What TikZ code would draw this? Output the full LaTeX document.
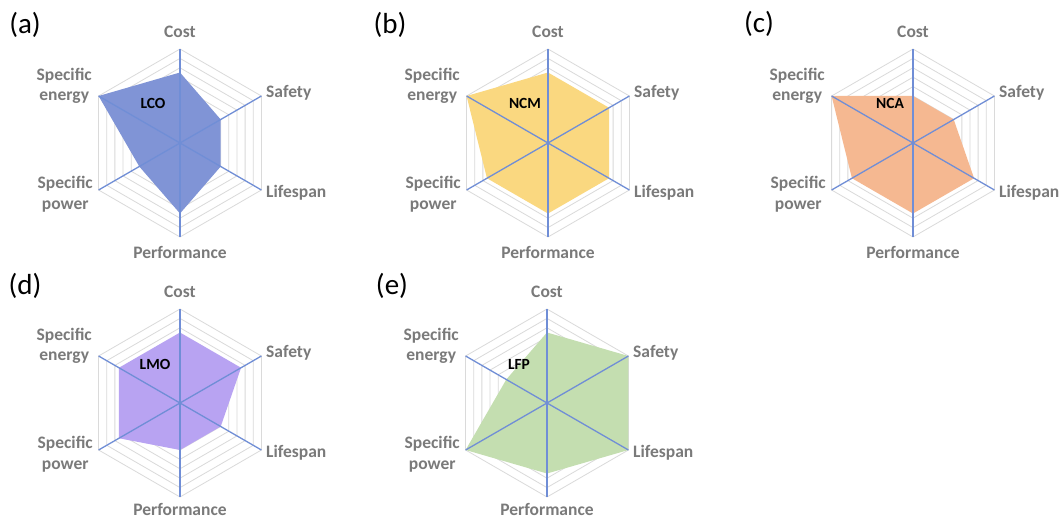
\documentclass[tikz,border=0pt]{standalone}
\usepackage{fontspec}
\setmainfont{Carlito}
\definecolor{axisblue}{RGB}{112,142,214}
\definecolor{ringgray}{RGB}{218,218,218}
\definecolor{labgray}{RGB}{122,122,122}
\definecolor{fillLCO}{RGB}{128,148,214}
\definecolor{fillNCM}{RGB}{250,216,128}
\definecolor{fillNCA}{RGB}{245,184,145}
\definecolor{fillLMO}{RGB}{184,163,242}
\definecolor{fillLFP}{RGB}{196,222,176}
\tikzset{
  ring/.style={draw=ringgray, line width=0.8pt},
  axisline/.style={draw=axisblue, line width=1.3pt},
  axlab/.style={text=labgray, font=\fontsize{17.5}{20.5}\selectfont\bfseries, inner sep=0pt, align=center},
  chem/.style={font=\fontsize{15.5}{18}\selectfont\bfseries, inner sep=0pt},
  panel/.style={font=\fontsize{29}{32}\selectfont, inner sep=0pt},
}
% #1 name, #2 cx, #3 cy, #4 offset of the Performance label
\newcommand\radarbase[4]{%
  \begin{scope}[shift={(#2,#3)}]
    \coordinate (#1c) at (0,0);
    \coordinate (#11) at (90:94);
    \coordinate (#12) at (30:94);
    \coordinate (#13) at (-30:94);
    \coordinate (#14) at (-90:94);
    \coordinate (#15) at (-150:94);
    \coordinate (#16) at (150:94);
    \foreach \k in {1,...,10}{%
      \pgfmathsetmacro\rr{\k*9.4}
      \draw[ring] (90:\rr) -- (30:\rr) -- (-30:\rr) -- (-90:\rr) -- (-150:\rr) -- (150:\rr) -- cycle;
    }
    \node[axlab] (#1cost) at (0,111) {Cost};
    \node[axlab, anchor=west] (#1safety) at (86,50) {Safety};
    \node[axlab, anchor=west] (#1life) at (86,-50) {Lifespan};
    \node[axlab] (#1perf) at (0,-#4) {Performance};
    \node[axlab, anchor=east] (#1spow) at (-87,-51) {Specific\\power};
    \node[axlab, anchor=east] (#1sen) at (-88,57) {Specific\\energy};
  \end{scope}}
% #1 name, #2 colour, #3..#8 values
\newcommand\radarpoly[8]{%
  \begin{scope}[shift={(#1c)}]
    \fill[#2] (90:#3*94) -- (30:#4*94) -- (-30:#5*94) -- (-90:#6*94) -- (-150:#7*94) -- (150:#8*94) -- cycle;
  \end{scope}
  \foreach \i in {1,...,6}{\draw[axisline] (#1c) -- (#1\i);}
}
\begin{document}
\begin{tikzpicture}[x=1pt,y=1pt]
  \path[use as bounding box, fill=white] (0,0) rectangle (1063,520);
  % (a) LCO
  \radarbase{a}{180}{377}{109}
  \radarpoly{a}{fillLCO}{0.75}{0.5}{0.5}{0.75}{0.5}{1}
  \node[chem] (alab) at ([shift={(-27,40)}]ac) {LCO};
  \node[panel] (apanel) at (25,495) {(a)};
  % (b) NCM
  \radarbase{b}{548}{377}{109}
  \radarpoly{b}{fillNCM}{0.75}{0.75}{0.75}{0.75}{0.75}{1}
  \node[chem] (blab) at ([shift={(-23,40)}]bc) {NCM};
  \node[panel] (bpanel) at (390,495) {(b)};
  % (c) NCA
  \radarbase{c}{913}{377}{109}
  \radarpoly{c}{fillNCA}{0.5}{0.5}{0.75}{0.75}{0.75}{1}
  \node[chem] (clab) at ([shift={(-23,40)}]cc) {NCA};
  \node[panel] (cpanel) at (759,496) {(c)};
  % (d) LMO
  \radarbase{d}{180}{117}{106}
  \radarpoly{d}{fillLMO}{0.75}{0.75}{0.5}{0.5}{0.75}{0.75}
  \node[chem] (dlab) at ([shift={(-25,39)}]dc) {LMO};
  \node[panel] (dpanel) at (25,234) {(d)};
  % (e) LFP
  \radarbase{e}{547}{117}{106}
  \radarpoly{e}{fillLFP}{0.75}{1}{1}{0.75}{1}{0.5}
  \node[chem] (elab) at ([shift={(-28,39)}]ec) {LFP};
  \node[panel] (epanel) at (392,234) {(e)};
\end{tikzpicture}
\end{document}
